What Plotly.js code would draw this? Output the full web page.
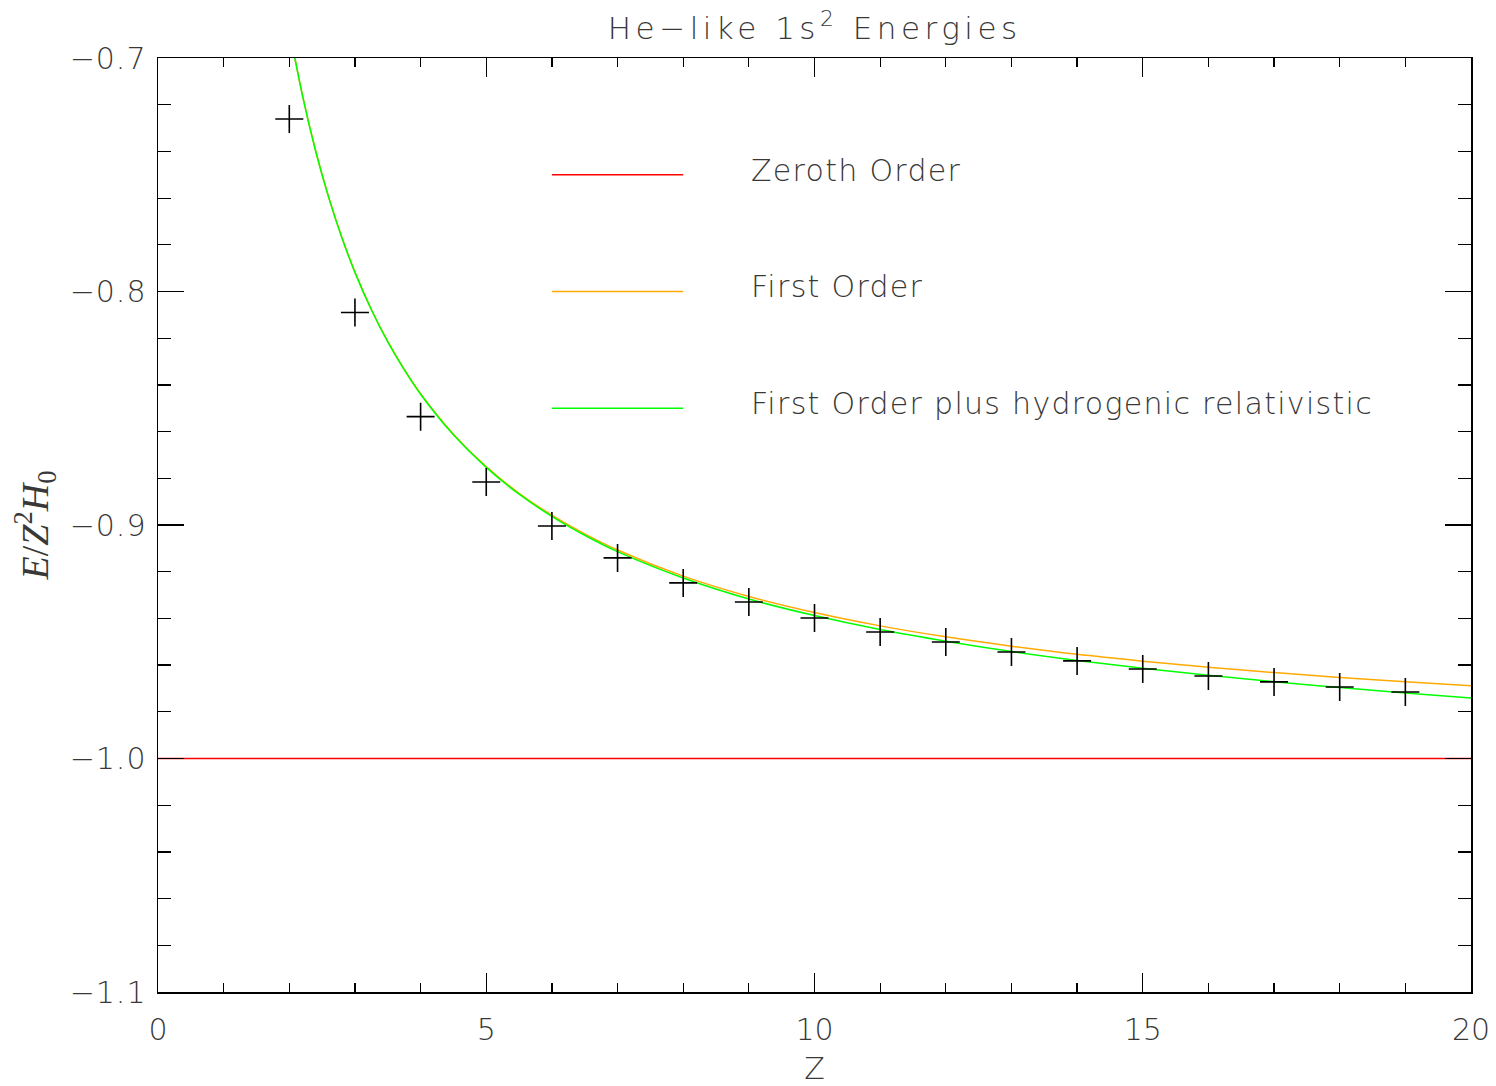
<!DOCTYPE html>
<html>
<head>
<meta charset="utf-8">
<script src="https://cdn.plot.ly/plotly-3.0.1.min.js"></script>
<style>
html,body{margin:0;padding:0;background:#fff;}
#chart{width:1496px;height:1086px;}
</style>
</head>
<body>
<div id="chart"></div>
<script>
// ---- data ----
const curveZ = [2.0, 2.2, 2.4, 2.6, 2.8, 3.0, 3.25, 3.5, 3.75, 4.0, 4.5, 5.0, 5.5, 6.0, 6.5, 7.0, 8.0, 9.0, 10.0, 11.0, 12.0, 13.0, 14.0, 15.0, 16.0, 17.0, 18.0, 19.0, 20.0];
const firstOrder = [-0.6875, -0.7159, -0.7396, -0.7596, -0.7768, -0.7917, -0.8077, -0.8214, -0.8333, -0.8438, -0.8611, -0.8750, -0.8864, -0.8958, -0.9038, -0.9107, -0.9219, -0.9306, -0.9375, -0.9432, -0.9479, -0.9519, -0.9554, -0.9583, -0.9609, -0.9632, -0.9653, -0.9671, -0.9688];
const firstOrderRel = [-0.6876, -0.7160, -0.7397, -0.7597, -0.7769, -0.7918, -0.8078, -0.8216, -0.8335, -0.8440, -0.8614, -0.8753, -0.8868, -0.8963, -0.9044, -0.9114, -0.9227, -0.9317, -0.9388, -0.9448, -0.9498, -0.9542, -0.9580, -0.9613, -0.9643, -0.9671, -0.9696, -0.9719, -0.9741];
const zerothZ = [0, 20];
const zerothOrder = [-1.0, -1.0];
const measZ = [2, 3, 4, 5, 6, 7, 8, 9, 10, 11, 12, 13, 14, 15, 16, 17, 18, 19];
const measured = [-0.7261, -0.8090, -0.8536, -0.8816, -0.9004, -0.9141, -0.9248, -0.9330, -0.9398, -0.9458, -0.9501, -0.9544, -0.9582, -0.9617, -0.9647, -0.9672, -0.9694, -0.9715];
const legendLabels = ["Zeroth Order", "First Order", "First Order plus hydrogenic relativistic"];
const legendColors = ["#ff0000", "#ffaa00", "#00ff00"];
const legendY = [-0.75, -0.80, -0.85];
const xTickVals = [0, 5, 10, 15, 20];
const xTickText = ["0", "5", "10", "15", "20"];
const yTickVals = [-1.1, -1.0, -0.9, -0.8, -0.7];
const yTickText = ["\u22121.1", "\u22121.0", "\u22120.9", "\u22120.8", "\u22120.7"];

const FONT = "'DejaVu Sans', sans-serif";
const TXT = "#383838";

const traces = [
  {x: zerothZ, y: zerothOrder, mode: "lines", line: {color: legendColors[0], width: 1.3}, hoverinfo: "skip"},
  {x: curveZ, y: firstOrder, mode: "lines", line: {color: legendColors[1], width: 1.5, shape: "spline"}, hoverinfo: "skip"},
  {x: curveZ, y: firstOrderRel, mode: "lines", line: {color: legendColors[2], width: 1.5, shape: "spline"}, hoverinfo: "skip"},
  {x: measZ, y: measured, mode: "markers", marker: {symbol: "cross-thin", size: 20, line: {color: "#000", width: 1.6}}, hoverinfo: "skip", cliponaxis: false}
];

const shapes = legendY.map((y, i) => ({
  type: "line", xref: "x", yref: "y", x0: 6, x1: 8, y0: y, y1: y,
  line: {color: legendColors[i], width: 1.3}
}));
const annotations = legendY.map((y, i) => ({
  xref: "x", yref: "y", x: 9.0, y: y + 0.002, xanchor: "left", yanchor: "middle",
  text: legendLabels[i], showarrow: false,
  font: {family: FONT, size: 30, color: TXT, weight: 200}
}));

const layout = {
  width: 1496, height: 1086,
  margin: {l: 158, r: 25, t: 58, b: 94},
  paper_bgcolor: "#fff", plot_bgcolor: "#fff",
  showlegend: false,
  title: {text: "He\u2212like 1s<sup>2</sup> Energies", x: 0.5446, xanchor: "center", y: 0.974, yanchor: "middle",
          font: {family: FONT, size: 31, color: TXT, weight: 200}},
  xaxis: {
    range: [0, 20], showgrid: false, zeroline: false,
    showline: true, linecolor: "#000", linewidth: 1.5, mirror: "allticks",
    ticks: "inside", ticklen: 19, tickwidth: 1.3, tickcolor: "#000",
    tickmode: "array", tickvals: xTickVals, ticktext: xTickText,
    ticklabelstandoff: 10,
    minor: {dtick: 1, tick0: 0, ticks: "inside", ticklen: 9, tickwidth: 1.2, tickcolor: "#000", showgrid: false},
    tickfont: {family: FONT, size: 30, color: TXT, weight: 200},
    title: {text: "Z", standoff: 12, font: {family: FONT, size: 30, color: TXT, weight: 200}}
  },
  yaxis: {
    range: [-1.1, -0.7], showgrid: false, zeroline: false,
    showline: true, linecolor: "#000", linewidth: 1.5, mirror: "allticks",
    ticks: "inside", ticklen: 26, tickwidth: 1.3, tickcolor: "#000",
    tickmode: "array", tickvals: yTickVals, ticktext: yTickText,
    ticklabelstandoff: 4,
    minor: {dtick: 0.02, tick0: -1.1, ticks: "inside", ticklen: 13, tickwidth: 1.2, tickcolor: "#000", showgrid: false},
    tickfont: {family: FONT, size: 30, color: TXT, weight: 200},
    title: {text: "<i>E</i>/<i>Z</i><sup>2</sup><i>H</i><sub>0</sub>", standoff: 13,
            font: {family: "'Liberation Serif', 'DejaVu Serif', serif", size: 38, color: TXT}}
  },
  shapes: shapes,
  annotations: annotations
};

Plotly.newPlot("chart", traces, layout, {displayModeBar: false, staticPlot: true}).then(gd => {
  const t = gd.querySelector(".gtitle");
  if (t) t.style.letterSpacing = "4.5px";
  gd.querySelectorAll(".annotation-text").forEach(a => {
    const bb = a.getBBox();
    a.setAttribute("text-anchor", "start");
    a.setAttribute("x", bb.x);
    a.querySelectorAll("tspan").forEach(ts => { if (ts.hasAttribute("x")) ts.setAttribute("x", bb.x); });
    a.style.letterSpacing = "1.3px";
  });
  gd.querySelectorAll(".ytick text").forEach(a => { a.style.letterSpacing = "1px"; });
});
</script>
</body>
</html>
